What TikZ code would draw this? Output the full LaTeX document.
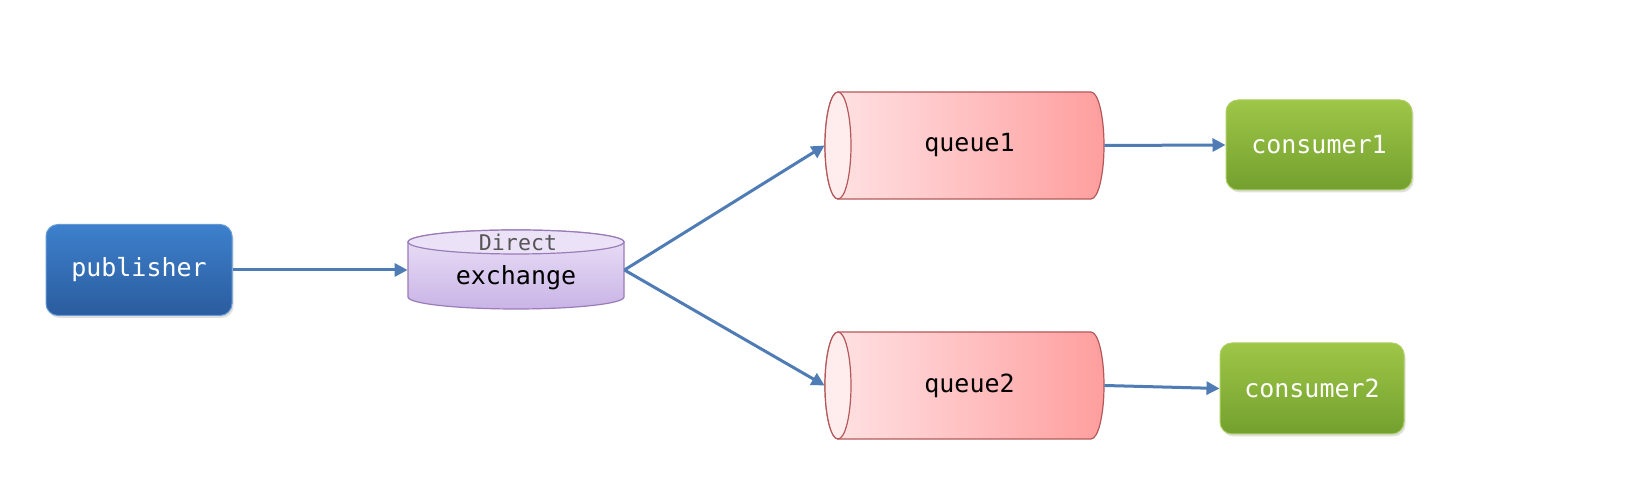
\documentclass[tikz,border=0pt]{standalone}
\usepackage{fontspec}
\setmonofont{DejaVu Sans Mono}
\usetikzlibrary{arrows.meta,shadows}
\definecolor{arrowblue}{HTML}{4F7CB5}
\definecolor{pubtop}{HTML}{3D80CC}
\definecolor{pubbot}{HTML}{2B5C9E}
\definecolor{contop}{HTML}{9EC647}
\definecolor{conbot}{HTML}{73A02E}
\definecolor{qleft}{HTML}{FFE4E6}
\definecolor{qright}{HTML}{FF9E9E}
\definecolor{qborder}{HTML}{B5585A}
\definecolor{qend}{HTML}{FFEDEE}
\definecolor{extop}{HTML}{ECE2F8}
\definecolor{exbot}{HTML}{C9B4E6}
\definecolor{exborder}{HTML}{9A7CB8}
\definecolor{directgray}{HTML}{555555}
\tikzset{
  boxbase/.style={rounded corners=6pt, inner sep=0pt, text=white,
    font=\ttfamily\fontsize{12.5}{14}\selectfont,
    drop shadow={shadow xshift=0.8pt, shadow yshift=-1.2pt, opacity=0.25}},
  pubbox/.style={boxbase, top color=pubtop, bottom color=pubbot, draw=pubtop!80!white, line width=0.5pt,
    minimum width=93pt, minimum height=45.5pt},
  conbox/.style={boxbase, top color=contop, bottom color=conbot, draw=contop!85!white, line width=0.5pt,
    minimum width=92.5pt, minimum height=45pt},
  qlabel/.style={inner sep=0pt, font=\ttfamily\fontsize{12.5}{14}\selectfont, text=black,
    minimum width=139.5pt, minimum height=53.5pt},
  conn/.style={draw=arrowblue, line width=1.5pt, -{Triangle[length=6.5pt,width=6.5pt]}},
}
\begin{document}
\begin{tikzpicture}[x=0.5pt,y=0.5pt]
\useasboundingbox (0,0) rectangle (1639,501);
\fill[white] (0,0) rectangle (1639,501);

% publisher
\node[pubbox] (pub) at (139,231) {publisher};

% exchange cylinder
\path[top color=extop, bottom color=exbot, draw=exborder, line width=0.6pt]
  (408,259) -- (408,204) arc[start angle=180,end angle=360,x radius=108,y radius=12]
  -- (624,259) arc[start angle=0,end angle=180,x radius=108,y radius=12] -- cycle;
\draw[fill=extop, draw=exborder, line width=0.6pt] (516,259) ellipse[x radius=108,y radius=12];
\node[inner sep=0pt, minimum width=108pt, minimum height=39.5pt] (ex) at (516,231) {};
\node[font=\ttfamily\fontsize{10.8}{12}\selectfont, text=directgray] (dir) at (518,259) {Direct};
\node[font=\ttfamily\fontsize{12.5}{14}\selectfont, text=black] (exl) at (516,223) {exchange};

% queue1
\path[left color=qleft, right color=qright, draw=qborder, line width=0.6pt]
  (838,409) -- (1091,409) arc[start angle=90,end angle=-90,x radius=13,y radius=53.5]
  -- (838,302) arc[start angle=270,end angle=90,x radius=13,y radius=53.5] -- cycle;
\draw[fill=qend, draw=qborder, line width=0.6pt] (838,355.5) ellipse[x radius=13,y radius=53.5];
\node[qlabel] (q1) at (964.5,355.5) {\hspace*{5pt}queue1};

% queue2
\path[left color=qleft, right color=qright, draw=qborder, line width=0.6pt]
  (838,169) -- (1091,169) arc[start angle=90,end angle=-90,x radius=13,y radius=53.5]
  -- (838,62) arc[start angle=270,end angle=90,x radius=13,y radius=53.5] -- cycle;
\draw[fill=qend, draw=qborder, line width=0.6pt] (838,115.5) ellipse[x radius=13,y radius=53.5];
\node[qlabel] (q2) at (964.5,115.5) {\hspace*{5pt}queue2};

% consumers
\node[conbox, minimum width=93pt, minimum height=45pt] (c1) at (1319,356) {consumer1};
\node[conbox, minimum width=92pt, minimum height=45.5pt] (c2) at (1312,112.5) {consumer2};

% connectors
\draw[conn] (pub.east) -- (ex.west);
\draw[conn] (ex.east) -- (q1.west);
\draw[conn] (ex.east) -- (q2.west);
\draw[conn] (q1.east) -- (c1.west);
\draw[conn] (q2.east) -- (c2.west);
\end{tikzpicture}
\end{document}
